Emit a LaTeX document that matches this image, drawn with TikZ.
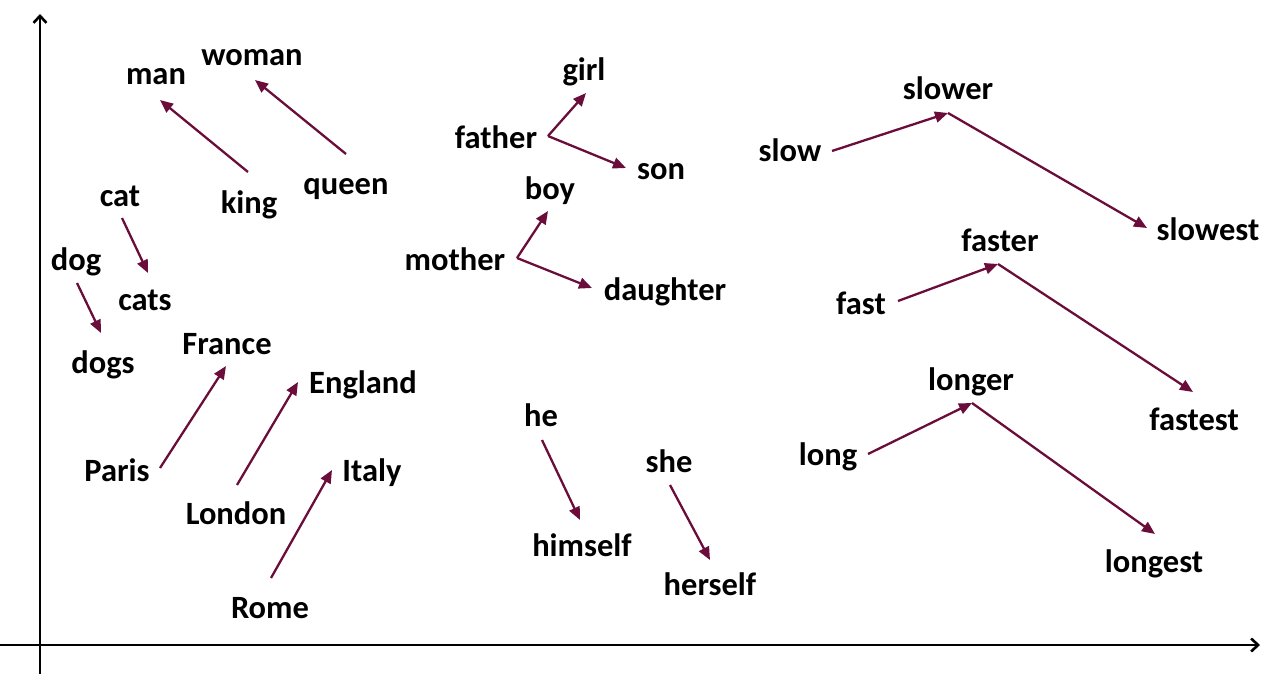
\documentclass[tikz,border=0pt]{standalone}
\usepackage{fontspec}
\setmainfont{Carlito}
\usetikzlibrary{arrows.meta}
\definecolor{wine}{RGB}{106,13,58}

\begin{document}
\begin{tikzpicture}[x=1pt,y=-1pt,
    word/.style={font=\fontsize{32.5}{38}\selectfont\bfseries, anchor=base, inner sep=0pt, yshift=-2pt},
    vec/.style={draw=wine, line width=2.3pt, -{Triangle[length=13pt,width=11pt]}},
    axis/.style={draw=black, line width=2.6pt, -{Straight Barb[length=7pt,width=13pt]}}]  % Begins a TikZ picture environment
    \useasboundingbox (0,0) rectangle (1280,674);  % Fixes the picture size

    % Axes
    \coordinate (xs) at (0,645);  % Start of the horizontal axis
    \coordinate (xe) at (1260,645);  % Tip of the horizontal axis
    \coordinate (ys) at (40,674);  % Start of the vertical axis
    \coordinate (ye) at (40,14);  % Tip of the vertical axis
    \draw[axis] (xs) -- (xe);  % Draws the horizontal axis
    \draw[axis] (ys) -- (ye);  % Draws the vertical axis

    % Nodes
    \node[word] (man) at (156,83) {man};  % Defines the word "man"
    \node[word] (woman) at (252,64) {woman};  % Defines the word "woman"
    \node[word] (king) at (249,211) {king};  % Defines the word "king"
    \node[word] (queen) at (346,192) {queen};  % Defines the word "queen"
    \node[word] (cat) at (120,204) {cat};  % Defines the word "cat"
    \node[word] (cats) at (145,308) {cats};  % Defines the word "cats"
    \node[word] (dog) at (76,268) {dog};  % Defines the word "dog"
    \node[word] (dogs) at (103,371) {dogs};  % Defines the word "dogs"
    \node[word] (france) at (227,352) {France};  % Defines the word "France"
    \node[word] (england) at (363,391) {England};  % Defines the word "England"
    \node[word] (italy) at (372,479) {Italy};  % Defines the word "Italy"
    \node[word] (paris) at (117,479) {Paris};  % Defines the word "Paris"
    \node[word] (london) at (236,522) {London};  % Defines the word "London"
    \node[word] (rome) at (270,616) {Rome};  % Defines the word "Rome"
    \node[word] (girl) at (584,79) {girl};  % Defines the word "girl"
    \node[word] (father) at (496,147) {father};  % Defines the word "father"
    \node[word] (son) at (661,177) {son};  % Defines the word "son"
    \node[word] (boy) at (550,198) {boy};  % Defines the word "boy"
    \node[word] (mother) at (455,268) {mother};  % Defines the word "mother"
    \node[word] (daughter) at (665,298) {daughter};  % Defines the word "daughter"
    \node[word] (he) at (541,424) {he};  % Defines the word "he"
    \node[word] (himself) at (582,554) {himself};  % Defines the word "himself"
    \node[word] (she) at (669,470) {she};  % Defines the word "she"
    \node[word] (herself) at (710,593) {herself};  % Defines the word "herself"
    \node[word] (slow) at (790,160) {slow};  % Defines the word "slow"
    \node[word] (slower) at (948,98) {slower};  % Defines the word "slower"
    \node[word] (slowest) at (1208,238) {slowest};  % Defines the word "slowest"
    \node[word] (fast) at (861,312) {fast};  % Defines the word "fast"
    \node[word] (faster) at (1000,249) {faster};  % Defines the word "faster"
    \node[word] (fastest) at (1194,428) {fastest};  % Defines the word "fastest"
    \node[word] (long) at (828,463) {long};  % Defines the word "long"
    \node[word] (longer) at (971,388) {longer};  % Defines the word "longer"
    \node[word] (longest) at (1154,570) {longest};  % Defines the word "longest"

    % Arrow ends
    \coordinate (king-a) at (248,172);  % Tail beside "king"
    \coordinate (man-a) at (160,100);  % Tip beside "man"
    \coordinate (queen-a) at (346,154);  % Tail beside "queen"
    \coordinate (woman-a) at (255,80);  % Tip beside "woman"
    \coordinate (cat-a) at (122,218);  % Tail beside "cat"
    \coordinate (cats-a) at (148,273);  % Tip beside "cats"
    \coordinate (dog-a) at (77,283);  % Tail beside "dog"
    \coordinate (dogs-a) at (101,333);  % Tip beside "dogs"
    \coordinate (paris-a) at (160,468);  % Tail beside "Paris"
    \coordinate (france-a) at (226,366);  % Tip beside "France"
    \coordinate (london-a) at (237,485);  % Tail beside "London"
    \coordinate (england-a) at (298,382);  % Tip beside "England"
    \coordinate (rome-a) at (271,578);  % Tail beside "Rome"
    \coordinate (italy-a) at (332,470);  % Tip beside "Italy"
    \coordinate (father-a) at (548,136);  % Tail beside "father"
    \coordinate (girl-a) at (586,93);  % Tip beside "girl"
    \coordinate (son-a) at (626,168);  % Tip beside "son"
    \coordinate (mother-a) at (517,258);  % Tail beside "mother"
    \coordinate (boy-a) at (548,211);  % Tip beside "boy"
    \coordinate (daughter-a) at (592,288);  % Tip beside "daughter"
    \coordinate (he-a) at (542,440);  % Tail beside "he"
    \coordinate (himself-a) at (580,520);  % Tip beside "himself"
    \coordinate (she-a) at (670,485);  % Tail beside "she"
    \coordinate (herself-a) at (710,560);  % Tip beside "herself"
    \coordinate (slow-a) at (832,151);  % Tail beside "slow"
    \coordinate (slower-a) at (948,113);  % Corner under "slower"
    \coordinate (slowest-a) at (1147,228);  % Tip beside "slowest"
    \coordinate (fast-a) at (898,301);  % Tail beside "fast"
    \coordinate (faster-a) at (998,264);  % Corner under "faster"
    \coordinate (fastest-a) at (1193,392);  % Tip above "fastest"
    \coordinate (long-a) at (868,454);  % Tail beside "long"
    \coordinate (longer-a) at (972,403);  % Corner under "longer"
    \coordinate (longest-a) at (1155,534);  % Tip above "longest"

    % Connections
    \draw[vec] (king-a) -- (man-a);  % king to man
    \draw[vec] (queen-a) -- (woman-a);  % queen to woman
    \draw[vec] (cat-a) -- (cats-a);  % cat to cats
    \draw[vec] (dog-a) -- (dogs-a);  % dog to dogs
    \draw[vec] (paris-a) -- (france-a);  % Paris to France
    \draw[vec] (london-a) -- (england-a);  % London to England
    \draw[vec] (rome-a) -- (italy-a);  % Rome to Italy
    \draw[vec] (father-a) -- (girl-a);  % father to girl
    \draw[vec] (father-a) -- (son-a);  % father to son
    \draw[vec] (mother-a) -- (boy-a);  % mother to boy
    \draw[vec] (mother-a) -- (daughter-a);  % mother to daughter
    \draw[vec] (he-a) -- (himself-a);  % he to himself
    \draw[vec] (she-a) -- (herself-a);  % she to herself
    \draw[vec] (slow-a) -- (slower-a);  % slow to slower
    \draw[vec] (slower-a) -- (slowest-a);  % slower to slowest
    \draw[vec] (fast-a) -- (faster-a);  % fast to faster
    \draw[vec] (faster-a) -- (fastest-a);  % faster to fastest
    \draw[vec] (long-a) -- (longer-a);  % long to longer
    \draw[vec] (longer-a) -- (longest-a);  % longer to longest
\end{tikzpicture}
\end{document}
